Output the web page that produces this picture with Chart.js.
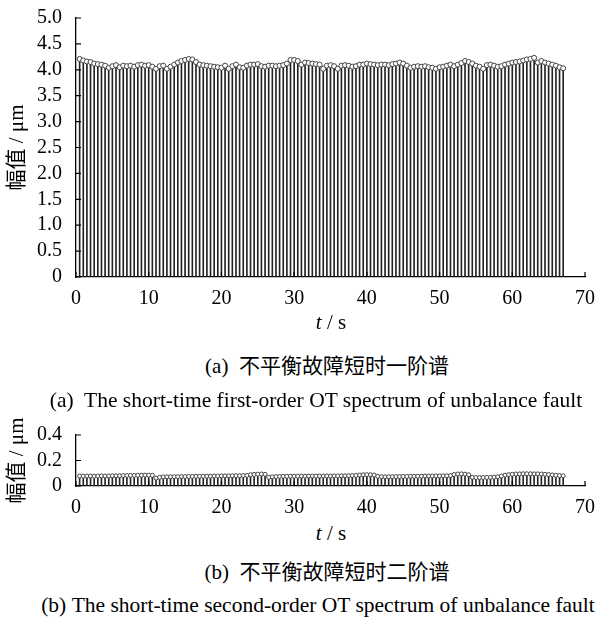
<!DOCTYPE html>
<html>
<head>
<meta charset="utf-8">
<script src="https://cdn.jsdelivr.net/npm/chart.js@4.4.0/dist/chart.umd.min.js"></script>
<style>
  body { margin: 0; background: #fff; width: 597px; height: 618px; position: relative; overflow: hidden;
         font-family: 'Liberation Serif', 'Noto Sans CJK SC', serif; color: #000; }
  canvas { position: absolute; left: 0; }
  .lbl { position: absolute; text-align: center; white-space: nowrap; line-height: 26px; }
  .axis { left: 0; width: 662px; font-size: 21px; }
  .cap { font-size: 21.5px; }
  .cn { left: 0; width: 654px; font-size: 21px; }
</style>
</head>
<body>
<canvas id="firstOrder" width="597" height="310" style="top:0"></canvas>
<canvas id="secondOrder" width="597" height="110" style="top:410px"></canvas>

<div class="lbl axis" style="top:309px"><i>t</i> / s</div>
<div class="lbl cn" style="top:353px">(a)&nbsp; 不平衡故障短时一阶谱</div>
<div class="lbl cap" style="top:387px; left:0; width:632px">(a)&nbsp; The short-time first-order OT spectrum of unbalance fault</div>
<div class="lbl axis" style="top:520px"><i>t</i> / s</div>
<div class="lbl cn" style="top:559px">(b)&nbsp; 不平衡故障短时二阶谱</div>
<div class="lbl cap" style="top:592px; left:0; width:636px">(b)&nbsp;The short-time second-order OT spectrum of unbalance fault</div>

<script>
// time stamps of the short-time windows (s)
const times = [
  0.5, 1, 1.5, 2, 2.5, 3, 3.5, 4, 4.5, 5,
  5.5, 6, 6.5, 7, 7.5, 8, 8.5, 9, 9.5, 10,
  10.5, 11, 11.5, 12, 12.5, 13, 13.5, 14, 14.5, 15,
  15.5, 16, 16.5, 17, 17.5, 18, 18.5, 19, 19.5, 20,
  20.5, 21, 21.5, 22, 22.5, 23, 23.5, 24, 24.5, 25,
  25.5, 26, 26.5, 27, 27.5, 28, 28.5, 29, 29.5, 30,
  30.5, 31, 31.5, 32, 32.5, 33, 33.5, 34, 34.5, 35,
  35.5, 36, 36.5, 37, 37.5, 38, 38.5, 39, 39.5, 40,
  40.5, 41, 41.5, 42, 42.5, 43, 43.5, 44, 44.5, 45,
  45.5, 46, 46.5, 47, 47.5, 48, 48.5, 49, 49.5, 50,
  50.5, 51, 51.5, 52, 52.5, 53, 53.5, 54, 54.5, 55,
  55.5, 56, 56.5, 57, 57.5, 58, 58.5, 59, 59.5, 60,
  60.5, 61, 61.5, 62, 62.5, 63, 63.5, 64, 64.5, 65,
  65.5, 66, 66.5, 67
];

// first-order amplitude (um)
const firstOrder = [
  4.21, 4.18, 4.16, 4.15, 4.12, 4.11, 4.10, 4.08, 4.04, 4.07,
  4.09, 4.05, 4.08, 4.07, 4.08, 4.06, 4.09, 4.10, 4.08, 4.09,
  4.06, 4.02, 4.07, 4.08, 4.02, 4.06, 4.10, 4.14, 4.17, 4.19,
  4.21, 4.20, 4.15, 4.10, 4.09, 4.08, 4.07, 4.06, 4.05, 4.04,
  4.08, 4.02, 4.07, 4.10, 4.05, 4.04, 4.08, 4.10, 4.10, 4.11,
  4.07, 4.06, 4.08, 4.08, 4.07, 4.08, 4.09, 4.12, 4.19, 4.19,
  4.17, 4.10, 4.14, 4.13, 4.12, 4.11, 4.10, 4.02, 4.08, 4.09,
  4.07, 4.02, 4.08, 4.09, 4.08, 4.06, 4.07, 4.10, 4.10, 4.12,
  4.11, 4.10, 4.09, 4.10, 4.10, 4.09, 4.11, 4.12, 4.14, 4.12,
  4.08, 4.04, 4.06, 4.07, 4.06, 4.07, 4.05, 4.04, 4.02, 4.05,
  4.06, 4.08, 4.10, 4.07, 4.10, 4.13, 4.17, 4.15, 4.12, 4.08,
  4.06, 4.02, 4.09, 4.10, 4.08, 4.06, 4.07, 4.10, 4.12, 4.14,
  4.15, 4.16, 4.18, 4.20, 4.21, 4.23, 4.14, 4.17, 4.14, 4.12,
  4.10, 4.08, 4.05, 4.03
];

// second-order amplitude (um)
const secondOrder = [
  0.078, 0.077, 0.078, 0.078, 0.077, 0.078, 0.079, 0.078, 0.079, 0.080,
  0.080, 0.081, 0.082, 0.082, 0.083, 0.083, 0.084, 0.084, 0.085, 0.085,
  0.084, 0.062, 0.068, 0.071, 0.072, 0.072, 0.073, 0.073, 0.074, 0.074,
  0.075, 0.075, 0.076, 0.076, 0.076, 0.077, 0.077, 0.078, 0.078, 0.079,
  0.079, 0.080, 0.080, 0.081, 0.081, 0.082, 0.083, 0.088, 0.091, 0.093,
  0.094, 0.092, 0.068, 0.072, 0.074, 0.075, 0.076, 0.076, 0.077, 0.077,
  0.077, 0.078, 0.077, 0.078, 0.078, 0.077, 0.078, 0.078, 0.079, 0.078,
  0.079, 0.079, 0.080, 0.080, 0.081, 0.082, 0.083, 0.086, 0.088, 0.089,
  0.088, 0.086, 0.076, 0.073, 0.072, 0.073, 0.073, 0.074, 0.074, 0.075,
  0.075, 0.076, 0.076, 0.077, 0.077, 0.078, 0.078, 0.078, 0.079, 0.079,
  0.080, 0.080, 0.082, 0.090, 0.094, 0.095, 0.093, 0.088, 0.068, 0.066,
  0.066, 0.067, 0.067, 0.068, 0.069, 0.072, 0.078, 0.085, 0.089, 0.092,
  0.094, 0.095, 0.096, 0.096, 0.096, 0.095, 0.095, 0.094, 0.092, 0.090,
  0.087, 0.084, 0.082, 0.080
];

const xTicks = [0, 10, 20, 30, 40, 50, 60, 70];
const firstTicks = [0, 0.5, 1.0, 1.5, 2.0, 2.5, 3.0, 3.5, 4.0, 4.5, 5.0];
const secondTicks = [0, 0.2, 0.4];

const SERIF = "'Liberation Serif', 'Noto Sans CJK SC', serif";

// short tick marks pointing into the plot
const inwardTicks = {
  id: 'inwardTicks',
  afterDatasetsDraw(chart) {
    const { ctx, chartArea: a, scales: { x, y } } = chart;
    ctx.save();
    ctx.strokeStyle = '#000';
    ctx.lineWidth = 1.2;
    ctx.beginPath();
    x.ticks.forEach(t => {
      const px = x.getPixelForValue(t.value);
      ctx.moveTo(px, a.bottom);
      ctx.lineTo(px, a.bottom - 5);
    });
    y.ticks.forEach(t => {
      const py = y.getPixelForValue(t.value);
      ctx.moveTo(a.left, py);
      ctx.lineTo(a.left + 5, py);
    });
    ctx.stroke();
    ctx.restore();
  }
};

function stemChart(id, values, yTicks, topPad, axisHeight, radius) {
  const pts = times.map((t, i) => ({ x: t, y: values[i] }));
  return new Chart(document.getElementById(id), {
    type: 'bar',
    data: {
      datasets: [{
        type: 'line',
        data: pts,
        showLine: false,
        pointRadius: radius,
        pointBorderWidth: 1,
        pointBorderColor: '#444',
        pointBackgroundColor: '#fff',
        order: 1
      }, {
        type: 'bar',
        data: pts,
        backgroundColor: '#222',
        barThickness: 1,
        borderWidth: 0,
        order: 2
      }]
    },
    options: {
      responsive: false,
      animation: false,
      events: [],
      layout: { padding: { top: topPad, right: 11, left: 0, bottom: 0 } },
      plugins: { legend: { display: false }, tooltip: { enabled: false } },
      scales: {
        x: {
          type: 'linear',
          offset: false,
          min: 0, max: 70,
          afterBuildTicks: s => { s.ticks = xTicks.map(v => ({ value: v })); },
          afterFit: s => { s.height = axisHeight; },
          grid: { display: false, offset: false },
          border: { color: '#000', width: 1.3 },
          ticks: { color: '#000', padding: 2, autoSkip: false, maxRotation: 0, font: { family: SERIF, size: 20 } }
        },
        y: {
          min: 0, max: yTicks[yTicks.length - 1],
          afterBuildTicks: s => { s.ticks = yTicks.map(v => ({ value: v })); },
          afterFit: s => { s.width = 76; },
          grid: { display: false },
          border: { color: '#000', width: 1.3 },
          ticks: {
            color: '#000', padding: 6, autoSkip: false, font: { family: SERIF, size: 20 },
            callback: v => v === 0 ? '0' : v.toFixed(1)
          },
          title: {
            display: true, text: '幅值 / μm', color: '#000',
            padding: { top: 5, bottom: 0 },
            font: { family: SERIF, size: 21 }
          }
        }
      }
    },
    plugins: [inwardTicks]
  });
}

stemChart('firstOrder', firstOrder, firstTicks, 16, 33, 2.5);
stemChart('secondOrder', secondOrder, secondTicks, 25, 34, 2);
</script>
</body>
</html>
